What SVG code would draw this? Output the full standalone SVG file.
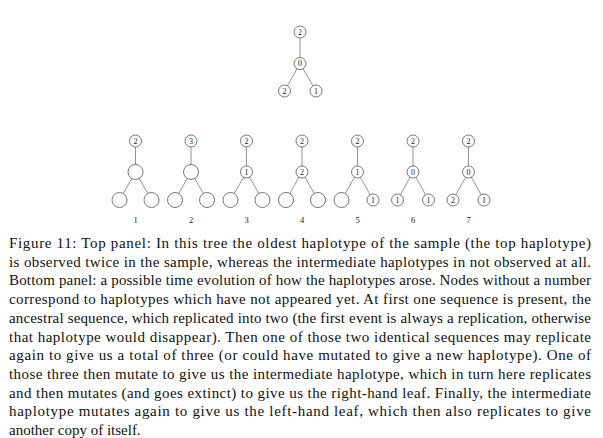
<svg xmlns="http://www.w3.org/2000/svg" width="603" height="438" viewBox="0 0 603 438">
<style>
.e{stroke:#888;stroke-width:0.9;fill:none}
.n{fill:#fff;stroke:#555;stroke-width:0.8}
.t{font-family:"Liberation Serif",serif;font-size:8px;fill:#222;text-anchor:middle}
.lb{font-family:"Liberation Serif",serif;font-size:8.5px;fill:#222;text-anchor:middle}
.c{font-family:"Liberation Serif",serif;font-size:15px;fill:#111}
</style>
<rect width="603" height="438" fill="#fff"/>
<g id="connectors">
<line class="e" x1="300" y1="32" x2="300" y2="63.5"/>
<line class="e" x1="300" y1="63.5" x2="284.5" y2="91"/>
<line class="e" x1="300" y1="63.5" x2="316" y2="91"/>
<line class="e" x1="135.5" y1="141" x2="135.5" y2="172"/><line class="e" x1="135.5" y1="172" x2="119.5" y2="200"/><line class="e" x1="135.5" y1="172" x2="151.5" y2="200"/>
<line class="e" x1="191" y1="141" x2="191" y2="172"/><line class="e" x1="191" y1="172" x2="175" y2="200"/><line class="e" x1="191" y1="172" x2="207" y2="200"/>
<line class="e" x1="246.5" y1="141" x2="246.5" y2="172"/><line class="e" x1="246.5" y1="172" x2="230.5" y2="200"/><line class="e" x1="246.5" y1="172" x2="262.5" y2="200"/>
<line class="e" x1="302" y1="141" x2="302" y2="172"/><line class="e" x1="302" y1="172" x2="286" y2="200"/><line class="e" x1="302" y1="172" x2="318" y2="200"/>
<line class="e" x1="357.5" y1="141" x2="357.5" y2="172"/><line class="e" x1="357.5" y1="172" x2="341.5" y2="200"/><line class="e" x1="357.5" y1="172" x2="373" y2="200"/>
<line class="e" x1="413" y1="141" x2="413" y2="172"/><line class="e" x1="413" y1="172" x2="397.5" y2="200"/><line class="e" x1="413" y1="172" x2="428.5" y2="200"/>
<line class="e" x1="468.5" y1="141" x2="468.5" y2="172"/><line class="e" x1="468.5" y1="172" x2="453" y2="200"/><line class="e" x1="468.5" y1="172" x2="484" y2="200"/>
</g>
<g id="top-tree">
<g id="tA"><circle class="n" cx="300" cy="32" r="6"/><text class="t" x="300" y="34.8">2</text></g>
<g id="tB"><circle class="n" cx="300" cy="63.5" r="6"/><text class="t" x="300" y="66.3">0</text></g>
<g id="tC"><circle class="n" cx="284.5" cy="91" r="6"/><text class="t" x="284.5" y="93.8">2</text></g>
<g id="tD"><circle class="n" cx="316" cy="91" r="6"/><text class="t" x="316" y="93.8">1</text></g>
</g>
<g id="tree1">
<g id="n1a"><circle class="n" cx="135.5" cy="141" r="6"/><text class="t" x="135.5" y="143.8">2</text></g>
<g id="n1b"><circle class="n" cx="135.5" cy="172" r="7.5"/></g>
<g id="n1c"><circle class="n" cx="119.5" cy="200" r="7.5"/></g>
<g id="n1d"><circle class="n" cx="151.5" cy="200" r="7.5"/></g>
<text class="lb" x="135.5" y="223">1</text>
</g>
<g id="tree2">
<g id="n2a"><circle class="n" cx="191" cy="141" r="6"/><text class="t" x="191" y="143.8">3</text></g>
<g id="n2b"><circle class="n" cx="191" cy="172" r="7.5"/></g>
<g id="n2c"><circle class="n" cx="175" cy="200" r="7.5"/></g>
<g id="n2d"><circle class="n" cx="207" cy="200" r="7.5"/></g>
<text class="lb" x="191" y="223">2</text>
</g>
<g id="tree3">
<g id="n3a"><circle class="n" cx="246.5" cy="141" r="6"/><text class="t" x="246.5" y="143.8">2</text></g>
<g id="n3b"><circle class="n" cx="246.5" cy="172" r="6"/><text class="t" x="246.5" y="174.8">1</text></g>
<g id="n3c"><circle class="n" cx="230.5" cy="200" r="7.5"/></g>
<g id="n3d"><circle class="n" cx="262.5" cy="200" r="7.5"/></g>
<text class="lb" x="246.5" y="223">3</text>
</g>
<g id="tree4">
<g id="n4a"><circle class="n" cx="302" cy="141" r="6"/><text class="t" x="302" y="143.8">2</text></g>
<g id="n4b"><circle class="n" cx="302" cy="172" r="6"/><text class="t" x="302" y="174.8">2</text></g>
<g id="n4c"><circle class="n" cx="286" cy="200" r="7.5"/></g>
<g id="n4d"><circle class="n" cx="318" cy="200" r="7.5"/></g>
<text class="lb" x="302" y="223">4</text>
</g>
<g id="tree5">
<g id="n5a"><circle class="n" cx="357.5" cy="141" r="6"/><text class="t" x="357.5" y="143.8">2</text></g>
<g id="n5b"><circle class="n" cx="357.5" cy="172" r="6"/><text class="t" x="357.5" y="174.8">1</text></g>
<g id="n5c"><circle class="n" cx="341.5" cy="200" r="7.5"/></g>
<g id="n5d"><circle class="n" cx="373" cy="200" r="6"/><text class="t" x="373" y="202.8">1</text></g>
<text class="lb" x="357.5" y="223">5</text>
</g>
<g id="tree6">
<g id="n6a"><circle class="n" cx="413" cy="141" r="6"/><text class="t" x="413" y="143.8">2</text></g>
<g id="n6b"><circle class="n" cx="413" cy="172" r="6"/><text class="t" x="413" y="174.8">0</text></g>
<g id="n6c"><circle class="n" cx="397.5" cy="200" r="6"/><text class="t" x="397.5" y="202.8">1</text></g>
<g id="n6d"><circle class="n" cx="428.5" cy="200" r="6"/><text class="t" x="428.5" y="202.8">1</text></g>
<text class="lb" x="413" y="223">6</text>
</g>
<g id="tree7">
<g id="n7a"><circle class="n" cx="468.5" cy="141" r="6"/><text class="t" x="468.5" y="143.8">2</text></g>
<g id="n7b"><circle class="n" cx="468.5" cy="172" r="6"/><text class="t" x="468.5" y="174.8">0</text></g>
<g id="n7c"><circle class="n" cx="453" cy="200" r="6"/><text class="t" x="453" y="202.8">2</text></g>
<g id="n7d"><circle class="n" cx="484" cy="200" r="6"/><text class="t" x="484" y="202.8">1</text></g>
<text class="lb" x="468.5" y="223">7</text>
</g>
<g id="caption" class="c">
<text x="9" y="248" textLength="582" lengthAdjust="spacing">Figure 11: Top panel: In this tree the oldest haplotype of the sample (the top haplotype)</text>
<text x="9" y="266.7" textLength="582" lengthAdjust="spacing">is observed twice in the sample, whereas the intermediate haplotypes in not observed at all.</text>
<text x="9" y="285.4" textLength="582" lengthAdjust="spacing">Bottom panel: a possible time evolution of how the haplotypes arose. Nodes without a number</text>
<text x="9" y="304.1" textLength="582" lengthAdjust="spacing">correspond to haplotypes which have not appeared yet. At first one sequence is present, the</text>
<text x="9" y="322.8" textLength="582" lengthAdjust="spacing">ancestral sequence, which replicated into two (the first event is always a replication, otherwise</text>
<text x="9" y="341.5" textLength="582" lengthAdjust="spacing">that haplotype would disappear). Then one of those two identical sequences may replicate</text>
<text x="9" y="360.2" textLength="582" lengthAdjust="spacing">again to give us a total of three (or could have mutated to give a new haplotype). One of</text>
<text x="9" y="378.9" textLength="582" lengthAdjust="spacing">those three then mutate to give us the intermediate haplotype, which in turn here replicates</text>
<text x="9" y="397.6" textLength="582" lengthAdjust="spacing">and then mutates (and goes extinct) to give us the right-hand leaf. Finally, the intermediate</text>
<text x="9" y="416.3" textLength="582" lengthAdjust="spacing">haplotype mutates again to give us the left-hand leaf, which then also replicates to give</text>
<text x="9" y="435">another copy of itself.</text>
</g>
</svg>
